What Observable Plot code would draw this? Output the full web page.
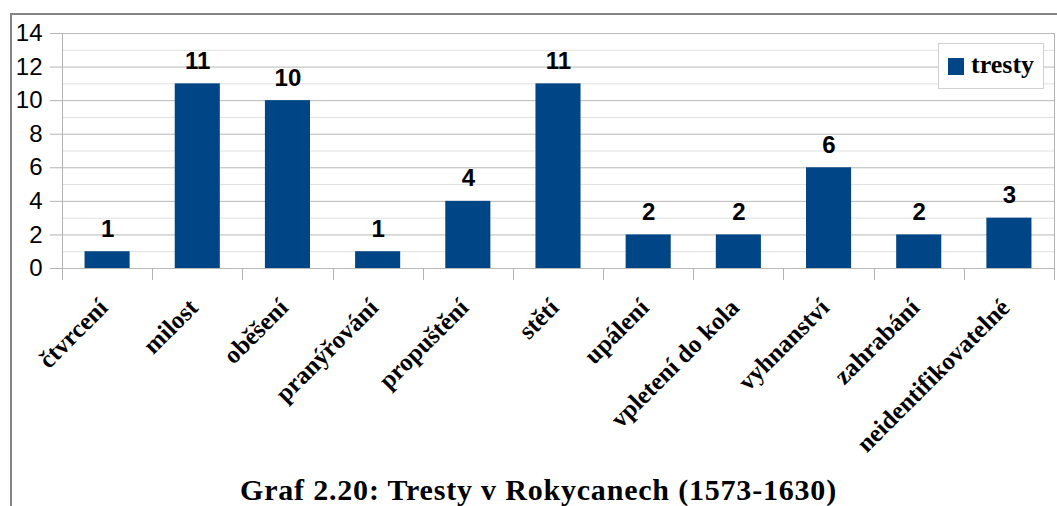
<!DOCTYPE html>
<html>
<head>
<meta charset="utf-8">
<script src="https://cdn.jsdelivr.net/npm/d3@7"></script>
<script src="https://cdn.jsdelivr.net/npm/@observablehq/plot@0.6"></script>
<style>
  html, body { margin: 0; padding: 0; background: #fff; }
  body { width: 1057px; height: 506px; overflow: hidden; position: relative; }
  #frame { position: absolute; left: 10px; top: 13px; width: 1100px; height: 600px;
           border-top: 2px solid #858585; border-left: 2px solid #858585; box-sizing: border-box; }
  #chart { position: absolute; left: 0; top: 0; }
  #legend { position: absolute; left: 938px; top: 43px; width: 106px; height: 46px; box-sizing: border-box;
            border: 1px solid #d0d0d0; background: #fff; }
  #legend .sw { position: absolute; left: 9px; top: 14px; width: 16px; height: 17px; background: #004586; }
  #legend .lb { position: absolute; left: 32px; top: 6px; font: bold 26px "Liberation Serif", "Times New Roman", serif; line-height: 30px; color: #000; }
  #title { position: absolute; left: 0; top: 475px; width: 1077px; text-align: center; letter-spacing: 0.8px;
           font: bold 30px "Liberation Serif", "Times New Roman", serif; line-height: 30px; color: #000; }
</style>
</head>
<body>
<div id="frame"></div>
<div id="chart"></div>
<div id="legend"><div class="sw"></div><div class="lb"></div></div>
<div id="title"></div>
<script>
const categories = ["čtvrcení", "milost", "oběšení", "pranýřování", "propuštění", "stětí", "upálení", "vpletení do kola", "vyhnanství", "zahrabání", "neidentifikovatelné"];
const values = [1, 11, 10, 1, 4, 11, 2, 2, 6, 2, 3];
const majorTicks = [0, 2, 4, 6, 8, 10, 12, 14];
const minorTicks = [1, 3, 5, 7, 9, 11, 13];
const seriesName = "tresty";
const chartTitle = "Graf 2.20: Tresty v Rokycanech (1573-1630)";

const data = categories.map((c, i) => ({category: c, value: values[i]}));

const boundaryMark = (index, scales, vals, dims) => {
  const {marginLeft, marginRight, width} = dims;
  const n = categories.length;
  const step = (width - marginLeft - marginRight) / n;
  const y0 = scales.y(0), yTop = scales.y(14);
  const g = d3.create("svg:g").attr("stroke", "#b3b3b3").attr("stroke-width", 1);
  for (let i = 0; i <= n; i++) {
    const x = Math.round(marginLeft + i * step) + 0.5;
    g.append("line").attr("x1", x).attr("x2", x)
      .attr("y1", (i === 0 || i === n) ? yTop : y0).attr("y2", y0 + 12);
  }
  return g.node();
};

const plot = Plot.plot({
  width: 1057,
  height: 470,
  marginLeft: 62,
  marginRight: 3,
  marginTop: 33,
  marginBottom: 202,
  style: {background: "transparent", overflow: "visible"},
  x: {domain: categories, paddingInner: 0.5, paddingOuter: 0.25, round: false, label: null},
  y: {domain: [0, 14], label: null},
  marks: [
    Plot.gridY(minorTicks, {stroke: "#e0e0e0", strokeOpacity: 1}),
    Plot.gridY(majorTicks, {stroke: "#b8b8b8", strokeOpacity: 1}),
    boundaryMark,
    Plot.axisY(majorTicks, {tickSize: 12, tickPadding: 8, stroke: "#b3b3b3", fontSize: 24,
      fontFamily: "Liberation Sans, Arial, sans-serif", label: null}),
    Plot.barY(data, {x: "category", y: "value", fill: "#004586"}),
    Plot.text(data, {x: "category", y: "value", text: d => String(d.value), lineAnchor: "bottom",
      dy: -15, fontSize: 24, fontWeight: "bold", fontFamily: "Liberation Sans, Arial, sans-serif", fill: "#000"}),
    Plot.axisX({tickSize: 0, tickPadding: 35, tickRotate: -45, dx: -4, fontSize: 25, fontWeight: "bold",
      fontFamily: "Liberation Serif, Times New Roman, serif", label: null, fill: "#000",
      style: {letterSpacing: "0.3px"}})
  ]
});
document.getElementById("chart").appendChild(plot);
document.querySelector("#legend .lb").textContent = seriesName;
document.getElementById("title").textContent = chartTitle;
</script>
</body>
</html>
